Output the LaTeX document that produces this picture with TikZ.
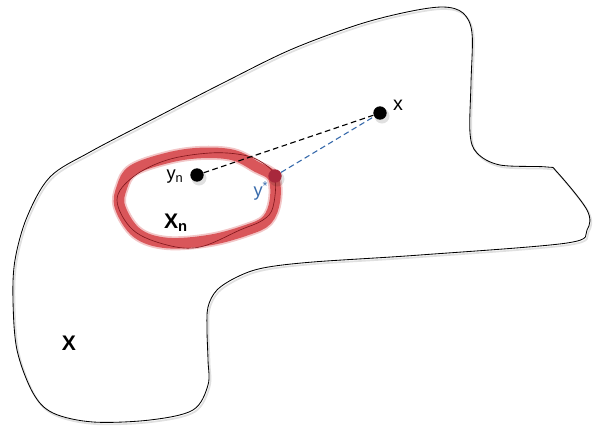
\documentclass[tikz,border=0pt]{standalone}
\usepackage{fontspec}
\setmainfont{Liberation Sans}
\usetikzlibrary{calc}
\definecolor{ringred}{RGB}{212,66,70}
\definecolor{linered}{RGB}{130,22,28}
\definecolor{dotred}{RGB}{168,40,60}
\definecolor{dashblue}{RGB}{58,108,172}

\begin{document}
\begin{tikzpicture}[%
        x = 0.025cm,
        y = -0.025cm,
        draw = black,
        line width = 0.6pt,
        font = \fontsize{13}{15}\selectfont,
        % smooth
        ]

\useasboundingbox[] (0,0) rectangle (599,429);
% \draw (0,0) grid[step=50] (599,429);

% outer set
\foreach \S/\C/\W in {{(1.5,2)}/black!12/1.2pt, {(0,0)}/black/0.6pt}{
    \draw[\C, line width = \W, shift = \S] plot[smooth cycle, tension = 0.55] coordinates {
        (407,12) (443,7) (463,13) (472,33) (471,83) (470,133) (477,153) (500,165)
        (547,167) (557,172) (587,210) (587,230) (567,243) (420,255) (313,262)
        (263,268) (237,277) (217,290) (208,307) (207,330) (208,360) (208,385)
        (193,410) (150,420) (93,422) (53,413) (33,393) (17,350) (13,300)
        (15,260) (27,217) (50,177) (90,152) (157,117) (223,83) (290,50) (357,25)};
    }

% subset X_n
\foreach \W/\O in {10pt/0.3, 7.5pt/0.85}{
    \draw[ringred, opacity = \O, line width = \W] plot[smooth cycle, tension = 0.6] coordinates {
        (133,170) (167,158) (200,153) (233,155) (257,167) (273,177) (275,200)
        (267,220) (247,230) (210,240) (167,243) (137,233) (120,207) (122,187)};
    }
\draw[linered, line width = 0.45pt] plot[smooth cycle, tension = 0.6] coordinates {
    (133,177) (167,160) (210,153) (243,155) (263,163) (275,177) (273,207)
    (263,220) (240,230) (200,247) (167,245) (133,230) (117,200)};

\foreach \P in {(380,113), (197,175), (275,176)}{
    \fill[black, opacity = 0.12] \P ++(2,3) circle (7.5);
    }
\node (Nx) [circle, fill = black, inner sep = 0pt, minimum size = 9.5pt] at (380,113) {};
\node (Nyn) [circle, fill = black, inner sep = 0pt, minimum size = 9.5pt] at (197,175) {};
\node (Nys) [circle, fill = dotred, inner sep = 0pt, minimum size = 9.5pt] at (275,176) {};

\draw[dash pattern = on 4pt off 2.5pt, line width = 0.8pt] (Nyn) -- (Nx);
\draw[dashblue, dash pattern = on 4pt off 2.5pt, line width = 0.8pt] (Nys) -- (Nx);

\node (Lx) at (398,105) {\fontsize{14}{16}\selectfont x};
\node (Lyn) at (175,177) {y\textsubscript{n}};
\node (Lys) [text = dashblue] at (261,191) {y\textsuperscript{*}};
\node (LXn) at (176,223) {\fontsize{15}{17}\selectfont\textbf{X\textsubscript{n}}};
\node (LX) at (69,343) {\fontsize{15}{17}\selectfont\textbf{X}};

\end{tikzpicture}
\end{document}
